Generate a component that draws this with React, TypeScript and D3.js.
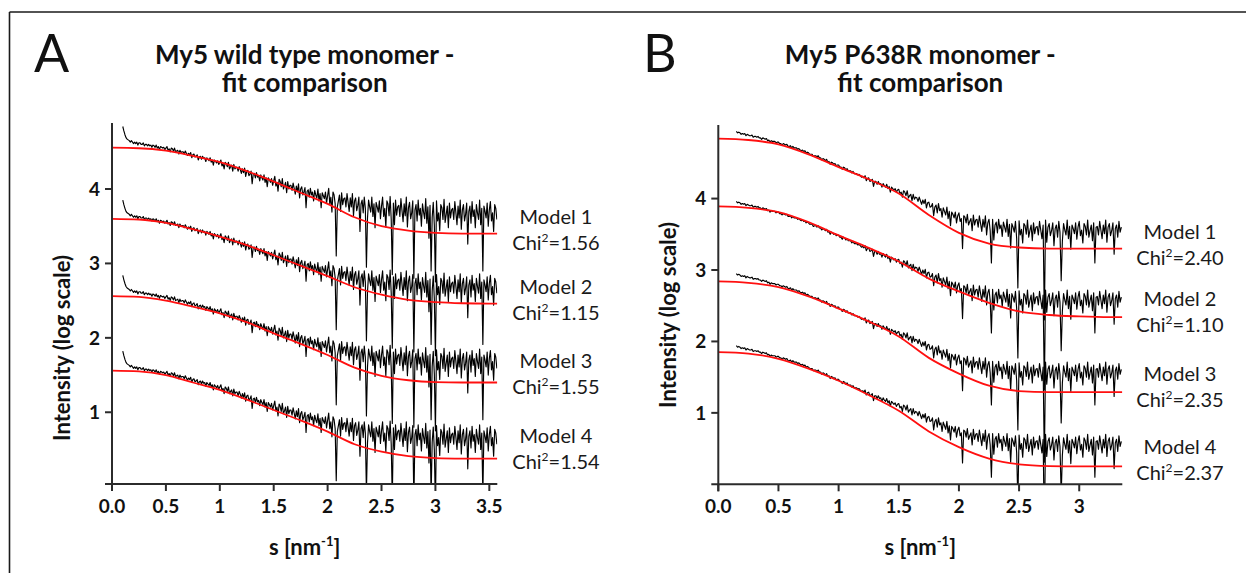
import React from "react";
import * as d3 from "d3";

const FONT = "Lato, 'Open Sans', 'DejaVu Sans', sans-serif";

// ---------------- Panel A data (log intensity at the Model 1 position) ----------------
const A_S_START = 0.1;
const A_S_STEP = 0.01;
const A_DATA = [
  4.84, 4.78, 4.73, 4.69, 4.67, 4.66,
  4.65, 4.63, 4.65, 4.63, 4.61,
  4.63, 4.61, 4.63, 4.59, 4.62, 4.62, 4.60, 4.60, 4.62, 4.58,
  4.60, 4.60, 4.58, 4.60, 4.58, 4.59, 4.56, 4.59, 4.58, 4.56,
  4.59, 4.55, 4.57, 4.53, 4.57, 4.56, 4.55, 4.56, 4.53, 4.55,
  4.57, 4.52, 4.54, 4.50, 4.55, 4.54, 4.51, 4.55, 4.50, 4.51,
  4.52, 4.47, 4.52, 4.49, 4.50, 4.50, 4.47, 4.51, 4.48, 4.45,
  4.48, 4.46, 4.49, 4.42, 4.46, 4.47, 4.43, 4.44, 4.46, 4.39,
  4.43, 4.44, 4.40, 4.44, 4.41, 4.42, 4.37, 4.42, 4.40, 4.38,
  4.42, 4.36, 4.39, 4.32, 4.39, 4.37, 4.35, 4.38, 4.33, 4.36,
  4.39, 4.31, 4.34, 4.27, 4.36, 4.34, 4.30, 4.36, 4.27, 4.30,
  4.32, 4.24, 4.33, 4.27, 4.29, 4.29, 4.24, 4.30, 4.26, 4.21,
  4.27, 4.22, 4.28, 4.17, 4.24, 4.25, 4.18, 4.20, 4.24, 4.07,
  4.20, 4.21, 4.15, 4.22, 4.16, 4.18, 4.11, 4.19, 4.15, 4.12,
  4.19, 4.09, 4.15, 4.03, 4.15, 4.12, 4.09, 4.14, 4.05, 4.11,
  4.17, 4.04, 4.09, 3.97, 4.13, 4.10, 4.03, 4.14, 4.00, 4.04,
  4.09, 3.95, 4.10, 4.00, 4.05, 4.05, 3.98, 4.08, 4.01, 3.93,
  4.04, 3.96, 4.07, 3.88, 4.00, 4.03, 3.92, 3.96, 4.02, 3.75,
  3.97, 3.99, 3.89, 4.01, 3.92, 3.96, 3.84, 3.98, 3.92, 3.88,
  4.00, 3.84, 3.94, 3.75, 3.95, 3.91, 3.87, 3.96, 3.81, 3.91,
  4.01, 3.80, 3.89, 3.69, 3.96, 3.92, 3.80, 3.10, 3.76, 3.84,
  3.92, 3.70, 3.95, 3.79, 3.87, 3.88, 3.76, 3.94, 3.82, 3.70,
  3.88, 3.76, 3.94, 3.64, 3.84, 3.88, 3.71, 3.78, 3.89, 3.43,
  3.80, 3.85, 3.68, 3.89, 3.74, 2.95, 3.61, 3.85, 3.76, 3.69,
  3.89, 3.63, 3.80, 3.48, 3.82, 3.76, 3.69, 3.84, 3.60, 3.77,
  3.89, 3.63, 3.74, 3.49, 3.84, 3.80, 3.64, 3.90, 3.59, 2.85,
  3.81, 3.52, 3.85, 3.65, 3.76, 3.78, 3.63, 3.87, 3.71, 3.56,
  3.80, 3.64, 3.89, 3.49, 3.75, 3.82, 3.60, 3.68, 3.84, 2.80,
  3.72, 3.79, 3.57, 3.85, 3.65, 3.74, 3.50, 3.80, 3.69, 3.60,
  3.87, 3.54, 3.76, 3.34, 3.78, 2.90, 3.62, 3.82, 3.51, 2.75,
  3.84, 3.57, 3.68, 3.44, 3.79, 3.75, 3.59, 3.86, 3.55, 3.66,
  3.77, 3.48, 3.81, 3.61, 3.72, 3.74, 3.59, 3.83, 3.68, 3.52,
  3.77, 3.61, 3.85, 3.46, 3.72, 3.79, 3.57, 3.66, 3.81, 3.26,
  3.70, 3.77, 3.54, 3.83, 3.63, 3.72, 3.48, 3.79, 3.68, 3.59,
  3.85, 3.52, 3.74, 2.90, 3.77, 3.70, 3.61, 3.81, 3.50, 3.72,
  3.83, 3.57, 3.68, 3.43, 3.79, 3.74, 3.59,
];
const A_OFFSETS = [0, -0.99, -2.0, -3.02];
const A_FIT_S = [0, 0.25, 0.5, 0.75, 1.0, 1.25, 1.5, 1.75, 2.0, 2.25, 2.5, 2.75, 3.0, 3.25, 3.5, 3.574];
const A_FIT_1 = [4.555, 4.548, 4.515, 4.445, 4.36, 4.24, 4.10, 3.95, 3.80, 3.62, 3.50, 3.44, 3.41, 3.40, 3.40, 3.40];
const A_FIT_2 = [3.60, 3.59, 3.545, 3.46, 3.36, 3.245, 3.11, 2.97, 2.83, 2.68, 2.58, 2.51, 2.48, 2.465, 2.46, 2.46];
const A_FIT_3 = [2.56, 2.55, 2.50, 2.42, 2.33, 2.21, 2.06, 1.92, 1.77, 1.60, 1.49, 1.43, 1.405, 1.40, 1.40, 1.40];
const A_FIT_4 = [1.56, 1.55, 1.50, 1.40, 1.30, 1.17, 1.03, 0.89, 0.74, 0.57, 0.47, 0.41, 0.385, 0.378, 0.377, 0.377];
const A_MODELS = ["Model 1", "Model 2", "Model 3", "Model 4"];
const A_CHI = ["1.56", "1.15", "1.55", "1.54"];
const A_X_TICKS = [0, 0.5, 1, 1.5, 2, 2.5, 3, 3.5];
const A_X_LABELS = ["0.0", "0.5", "1", "1.5", "2", "2.5", "3", "3.5"];

// ---------------- Panel B data ----------------
const B_S_START = 0.15;
const B_S_STEP = 0.01;
const B_DATA = [
  4.94, 4.92, 4.93, 4.92, 4.90, 4.91,
  4.90, 4.91, 4.88, 4.90, 4.89, 4.88, 4.88, 4.89, 4.86, 4.87,
  4.87, 4.86, 4.87, 4.85, 4.85, 4.83, 4.85, 4.84, 4.83, 4.84,
  4.81, 4.82, 4.79, 4.81, 4.80, 4.80, 4.80, 4.78, 4.79, 4.79,
  4.77, 4.77, 4.75, 4.77, 4.76, 4.75, 4.76, 4.73, 4.73, 4.74,
  4.71, 4.73, 4.71, 4.71, 4.71, 4.69, 4.70, 4.68, 4.67, 4.68,
  4.66, 4.67, 4.64, 4.65, 4.64, 4.62, 4.62, 4.62, 4.59, 4.60,
  4.60, 4.58, 4.60, 4.57, 4.57, 4.54, 4.56, 4.55, 4.53, 4.55,
  4.51, 4.52, 4.48, 4.51, 4.50, 4.48, 4.49, 4.46, 4.47, 4.47,
  4.44, 4.44, 4.41, 4.44, 4.43, 4.40, 4.42, 4.39, 4.39, 4.39,
  4.36, 4.38, 4.35, 4.35, 4.35, 4.33, 4.34, 4.32, 4.30, 4.31,
  4.29, 4.32, 4.25, 4.28, 4.29, 4.24, 4.25, 4.27, 4.17, 4.24,
  4.24, 4.20, 4.24, 4.20, 4.21, 4.16, 4.21, 4.18, 4.16, 4.20,
  4.14, 4.17, 4.09, 4.16, 4.14, 4.12, 4.14, 4.09, 4.12, 4.13,
  4.07, 4.09, 4.02, 4.11, 4.09, 4.04, 4.11, 4.01, 4.04, 4.06,
  3.97, 4.06, 3.99, 4.02, 4.01, 3.96, 4.02, 3.97, 3.92, 3.98,
  3.93, 3.99, 3.87, 3.94, 3.95, 3.88, 3.89, 3.93, 3.76, 3.88,
  3.91, 3.80, 3.93, 3.83, 3.86, 3.74, 3.87, 3.82, 3.77, 3.88,
  3.72, 3.82, 3.62, 3.81, 3.78, 3.73, 3.81, 3.66, 3.76, 3.80,
  3.68, 3.72, 3.30, 3.76, 3.74, 3.66, 3.78, 3.63, 3.68, 3.72,
  3.55, 3.77, 3.63, 3.70, 3.71, 3.60, 3.76, 3.65, 3.54, 3.71,
  3.60, 3.76, 3.49, 3.66, 3.71, 3.55, 3.10, 3.71, 3.42, 3.63,
  3.67, 3.52, 3.71, 3.58, 3.63, 3.47, 3.67, 3.60, 3.53, 3.71,
  3.47, 3.64, 3.31, 3.65, 3.60, 3.53, 3.68, 3.44, 2.75, 3.69,
  3.49, 3.57, 3.38, 3.65, 3.62, 3.50, 3.70, 3.46, 3.55, 3.63,
  3.41, 3.66, 3.51, 3.60, 3.61, 3.49, 3.68, 3.56, 3.44, 3.63,
  2.30, 3.70, 3.39, 3.60, 3.65, 3.48, 3.55, 3.66, 3.34, 3.58,
  3.63, 3.46, 3.68, 3.53, 2.85, 3.41, 3.65, 3.56, 3.49, 3.70,
  3.44, 3.61, 3.29, 3.63, 3.58, 3.51, 3.66, 3.43, 3.60, 3.68,
  3.48, 3.56, 3.38, 3.65, 3.61, 3.49, 3.70, 3.46, 3.55, 3.63,
  3.41, 3.66, 3.10, 3.60, 3.61, 3.49, 3.68, 3.56, 3.44, 3.63,
  3.51, 3.70, 3.39, 3.60, 3.65, 3.48, 3.55, 3.66, 3.22, 3.58,
  3.63, 3.46, 3.68, 3.53, 3.60,
];
const B_OFFSETS = [0, -0.98, -1.99, -3.0];
const B_FIT_S = [0, 0.25, 0.5, 0.75, 1.0, 1.25, 1.5, 1.75, 2.0, 2.25, 2.5, 2.75, 3.0, 3.25, 3.358];
const B_FIT_1 = [4.84, 4.82, 4.76, 4.62, 4.44, 4.27, 4.07, 3.77, 3.52, 3.37, 3.315, 3.30, 3.30, 3.30, 3.30];
const B_FIT_2 = [3.89, 3.87, 3.81, 3.67, 3.485, 3.31, 3.12, 2.88, 2.70, 2.54, 2.42, 2.37, 2.35, 2.34, 2.34];
const B_FIT_3 = [2.84, 2.82, 2.76, 2.63, 2.46, 2.28, 2.07, 1.77, 1.55, 1.38, 1.305, 1.29, 1.29, 1.29, 1.29];
const B_FIT_4 = [1.85, 1.83, 1.757, 1.62, 1.45, 1.25, 1.03, 0.74, 0.52, 0.36, 0.28, 0.255, 0.25, 0.25, 0.25];
const B_MODELS = ["Model 1", "Model 2", "Model 3", "Model 4"];
const B_CHI = ["2.40", "1.10", "2.35", "2.37"];
const B_X_TICKS = [0, 0.5, 1, 1.5, 2, 2.5, 3];
const B_X_LABELS = ["0.0", "0.5", "1", "1.5", "2", "2.5", "3"];

const Y_TICKS = [1, 2, 3, 4];
const TITLE_A = ["My5 wild type monomer -", "fit comparison"];
const TITLE_B = ["My5 P638R monomer -", "fit comparison"];

type PanelCfg = {
  id: string;
  letter: string;
  letterX: number;
  title: string[];
  xDomain: [number, number];
  xRange: [number, number];
  yDomain: [number, number];
  yRange: [number, number];
  sStart: number;
  sStep: number;
  data: number[];
  offsets: number[];
  fitS: number[];
  fits: number[][];
  models: string[];
  chi: string[];
  xTicks: number[];
  xLabels: string[];
  labelX: number;
  labelBaselines: number[];
  yLabelX: number;
  yLabelY: number;
};

const PANELS: PanelCfg[] = [
  {
    id: "A",
    letter: "A",
    letterX: 34,
    title: TITLE_A,
    xDomain: [0, 3.574],
    xRange: [112, 497.3],
    yDomain: [0.036, 4.887],
    yRange: [484, 123],
    sStart: A_S_START,
    sStep: A_S_STEP,
    data: A_DATA,
    offsets: A_OFFSETS,
    fitS: A_FIT_S,
    fits: [A_FIT_1, A_FIT_2, A_FIT_3, A_FIT_4],
    models: A_MODELS,
    chi: A_CHI,
    xTicks: A_X_TICKS,
    xLabels: A_X_LABELS,
    labelX: 556,
    labelBaselines: [224, 294.3, 368.3, 443.3],
    yLabelX: 70,
    yLabelY: 348,
  },
  {
    id: "B",
    letter: "B",
    letterX: 643,
    title: TITLE_B,
    xDomain: [0, 3.358],
    xRange: [718.3, 1122.3],
    yDomain: [0, 5.03],
    yRange: [484.3, 125],
    sStart: B_S_START,
    sStep: B_S_STEP,
    data: B_DATA,
    offsets: B_OFFSETS,
    fitS: B_FIT_S,
    fits: [B_FIT_1, B_FIT_2, B_FIT_3, B_FIT_4],
    models: B_MODELS,
    chi: B_CHI,
    xTicks: B_X_TICKS,
    xLabels: B_X_LABELS,
    labelX: 1180,
    labelBaselines: [239.3, 306, 381, 454.3],
    yLabelX: 676,
    yLabelY: 315,
  },
];

function Panel({ cfg }: { cfg: PanelCfg }) {
  const x = d3.scaleLinear().domain(cfg.xDomain).range(cfg.xRange);
  const y = d3.scaleLinear().domain(cfg.yDomain).range(cfg.yRange);
  const [x0, x1] = cfg.xRange;
  const [yb, yt] = cfg.yRange;
  const cx = (x0 + x1) / 2;
  const clipId = `clip-${cfg.id}`;

  const dataLine = d3
    .line<number>()
    .x((_, i) => x(cfg.sStart + i * cfg.sStep))
    .y((d) => y(d));

  const fitLine = d3
    .line<number>()
    .x((_, i) => x(cfg.fitS[i]))
    .y((d) => y(d))
    .curve(d3.curveMonotoneX);

  const axisColor = "#2b2b2b";

  return (
    <g>
      <defs>
        <clipPath id={clipId}>
          <rect x={x0} y={yt - 4} width={x1 - x0} height={yb - yt + 4} />
        </clipPath>
      </defs>

      {/* panel letter */}
      <text x={cfg.letterX} y={72} fontFamily={FONT} fontSize={52} fill="#111">
        {cfg.letter}
      </text>

      {/* title */}
      <text x={cx} y={64} textAnchor="middle" fontFamily={FONT} fontWeight={700} fontSize={26} fill="#111">
        {cfg.title[0]}
      </text>
      <text x={cx} y={92} textAnchor="middle" fontFamily={FONT} fontWeight={700} fontSize={26} fill="#111">
        {cfg.title[1]}
      </text>

      {/* measured data, one trace per model (same data, offset by a decade) */}
      <g clipPath={`url(#${clipId})`}>
        {cfg.offsets.map((off, k) => (
          <path
            key={`d${k}`}
            d={dataLine(cfg.data.map((v) => v + off)) || ""}
            fill="none"
            stroke="#000"
            strokeWidth={1.15}
            strokeLinejoin="round"
          />
        ))}
        {cfg.fits.map((f, k) => (
          <path key={`f${k}`} d={fitLine(f) || ""} fill="none" stroke="#ff1010" strokeWidth={1.8} />
        ))}
      </g>

      {/* axes */}
      <line x1={x0} x2={x0} y1={yt} y2={yb + 7} stroke={axisColor} strokeWidth={2} />
      <line x1={x0 - 7} x2={x1} y1={yb} y2={yb} stroke={axisColor} strokeWidth={2} />
      {Y_TICKS.map((t) => (
        <g key={`yt${t}`}>
          <line x1={x0 - 7} x2={x0} y1={y(t)} y2={y(t)} stroke={axisColor} strokeWidth={2} />
          <text
            x={x0 - 12}
            y={y(t)}
            dy="0.36em"
            textAnchor="end"
            fontFamily={FONT}
            fontWeight={700}
            fontSize={19}
            fill="#111"
          >
            {t}
          </text>
        </g>
      ))}
      {cfg.xTicks.map((t, i) => (
        <g key={`xt${t}`}>
          <line x1={x(t)} x2={x(t)} y1={yb} y2={yb + 7} stroke={axisColor} strokeWidth={2} />
          <text x={x(t)} y={513} textAnchor="middle" fontFamily={FONT} fontWeight={700} fontSize={19} fill="#111">
            {cfg.xLabels[i]}
          </text>
        </g>
      ))}

      {/* axis titles */}
      <text x={cx} y={555} textAnchor="middle" fontFamily={FONT} fontWeight={700} fontSize={22} fill="#111">
        s [nm
        <tspan dy={-9} fontSize={13}>
          -1
        </tspan>
        <tspan dy={9}>]</tspan>
      </text>
      <text
        transform={`translate(${cfg.yLabelX},${cfg.yLabelY}) rotate(-90)`}
        textAnchor="middle"
        fontFamily={FONT}
        fontWeight={700}
        fontSize={22}
        fill="#111"
      >
        Intensity (log scale)
      </text>

      {/* model labels */}
      {cfg.models.map((m, k) => (
        <g key={`m${k}`}>
          <text x={cfg.labelX} y={cfg.labelBaselines[k]} textAnchor="middle" fontFamily={FONT} fontSize={20} fill="#1a1a1a">
            {m}
          </text>
          <text
            x={cfg.labelX}
            y={cfg.labelBaselines[k] + 25.5}
            textAnchor="middle"
            fontFamily={FONT}
            fontSize={20}
            fill="#1a1a1a"
          >
            Chi
            <tspan dy={-8} fontSize={12}>
              2
            </tspan>
            <tspan dy={8}>={cfg.chi[k]}</tspan>
          </text>
        </g>
      ))}
    </g>
  );
}

export default function App() {
  return (
    <svg
      width={1246}
      height={573}
      style={{ position: "absolute", left: 0, top: 0, background: "#fff" }}
    >
      <rect x={0} y={0} width={1246} height={573} fill="#fff" />
      <line x1={9.5} x2={1246} y1={12} y2={12} stroke="#1a1a1a" strokeWidth={1.6} />
      <line x1={9.5} x2={9.5} y1={12} y2={573} stroke="#1a1a1a" strokeWidth={1.6} />
      {PANELS.map((p) => (
        <Panel key={p.id} cfg={p} />
      ))}
    </svg>
  );
}
